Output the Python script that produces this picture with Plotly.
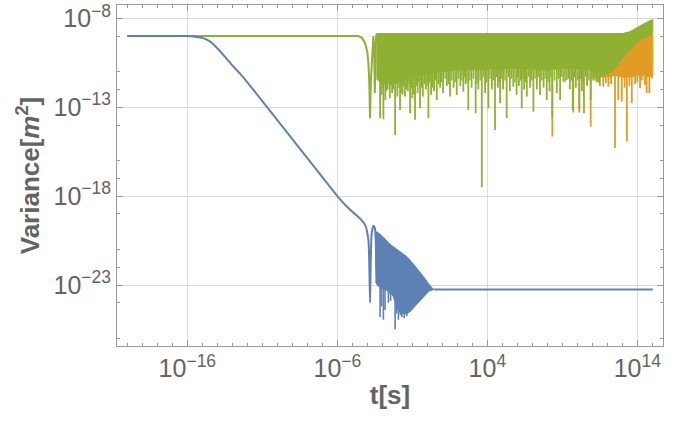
import plotly.graph_objects as go

# All values are log10 of t[s] and log10 of Variance[m^2].

# ---- Axis ticks ----
x_tick_exp = [-16, -6, 4, 14]
y_tick_exp = [-23, -18, -13, -8]

# ---- Blue series ----
blue_logt = [-20, -16, -15.5, -15, -14.5, -14, -13.5, -13, -12.5, -12, -11, -10, -9, -8, -7, -6,
             -5.5, -5, -4.5, -4.15, -3.93, -3.88, -3.82, -3.77, -3.71, -3.6, -3.5, -3.44, -3.4, -3.37]
blue_logv = [-9.0, -9.0, -9.03, -9.1, -9.3, -9.68, -10.15, -10.65, -11.1, -11.6, -12.65, -13.72, -14.79,
             -15.86, -16.93, -18.0, -18.47, -18.88, -19.25, -19.62, -20.46, -21.5, -24.0, -21.5, -20.1,
             -19.67, -19.8, -20.5, -22.9, -20.0]
blue_band_top_t = [-3.37, -3.0, -2.5, -2.0, -1.37, -1.0, -0.6, -0.26, 0.1, 0.42]
blue_band_top_v = [-20.0, -20.25, -20.7, -21.0, -21.4, -21.75, -22.15, -22.52, -22.95, -23.25]
blue_band_bot_t = [0.42, 0.1, -0.3, -0.7, -1.1, -1.4, -1.9, -2.3, -2.7, -3.0, -3.37]
blue_band_bot_v = [-23.25, -23.35, -23.7, -24.1, -24.45, -24.65, -24.5, -23.6, -23.3, -23.2, -23.0]
blue_spike_t = [-3.15, -3.05, -2.93, -2.82, -2.6, -2.45, -2.15, -2.05, -1.93, -1.8, -1.7, -1.55, -1.37, -1.15]
blue_spike_v = [-24.8, -24.2, -24.95, -24.4, -24.0, -23.9, -25.5, -24.6, -24.95, -24.7, -24.8, -24.85, -24.75, -24.5]
blue_tail_t = [0.42, 15.03]
blue_tail_v = [-23.25, -23.25]

# ---- Green series ----
green_logt = [-20, -4.6, -4.35, -4.15, -4.0, -3.93, -3.87, -3.82, -3.77, -3.71, -3.65, -3.6, -3.55, -3.5, -3.45, -3.4]
green_logv = [-9.0, -9.0, -9.1, -9.4, -9.9, -10.53, -11.6, -13.62, -11.6, -10.53, -9.4, -9.0, -9.6, -12.2, -9.6, -8.9]
green_band_top_t = [-3.4, 13.0, 13.5, 14.0, 14.5, 15.03]
green_band_top_v = [-8.86, -8.86, -8.75, -8.5, -8.27, -8.06]
green_band_bot_t = [15.03, 14.18, 13.29, 12.4, 11.63, 11.3, 10.0, 9.0, 8.0, 7.0, 6.0, 5.0, 4.0, 3.0,
                    2.0, 1.0, 0.0, -1.0, -2.0, -3.0, -3.4]
green_band_bot_v = [-8.84, -9.22, -9.97, -10.9, -11.3, -10.9, -10.85, -10.8, -10.9, -10.85, -10.8, -10.85,
                    -10.85, -10.9, -10.9, -11.0, -11.1, -11.3, -11.6, -11.7, -11.4]
green_spike_t = [-3.15, -3.05, -2.93, -2.8, -2.65, -2.5, -2.35, -2.15, -2.0, -1.82, -1.65, -1.49, -1.3,
                 -1.15, -1.0, -0.82, -0.65, -0.49, -0.3, -0.1, 0.07, 0.25, 0.45, 0.63, 0.85, 1.05, 1.3,
                 1.51, 1.75, 1.96, 2.2, 2.4, 2.55, 2.73, 2.95, 3.22, 3.4, 3.63, 3.85, 4.07, 4.3, 4.51,
                 4.7, 4.85, 5.05, 5.29, 5.5, 5.73, 5.95, 6.1, 6.29, 6.45, 6.63, 6.85, 7.07, 7.3, 7.51,
                 7.75, 7.96, 8.15, 8.33, 8.63, 8.85, 9.07, 9.29, 9.5, 9.69, 9.9, 10.13, 10.3, 10.44,
                 10.65, 10.89, 11.07, 11.3, 11.5]
green_spike_v = [-13.62, -12.3, -13.67, -12.6, -12.0, -12.5, -12.2, -14.56, -12.4, -13.15, -12.3, -12.4,
                 -12.1, -13.34, -12.5, -13.71, -12.2, -13.06, -12.4, -12.0, -13.62, -12.3, -12.1, -12.6,
                 -11.9, -12.2, -11.8, -12.4, -11.9, -12.31, -11.8, -12.12, -11.7, -13.15, -11.9, -13.34,
                 -12.0, -17.5, -12.2, -13.06, -12.0, -14.28, -11.9, -12.77, -12.0, -13.62, -12.1, -11.84,
                 -12.3, -11.8, -13.06, -12.0, -12.4, -11.9, -13.25, -12.0, -12.31, -11.9, -12.59, -12.1,
                 -13.6, -12.21, -12.59, -11.56, -11.47, -12.0, -13.15, -11.9, -13.15, -12.1, -13.34,
                 -11.8, -12.59, -11.5, -11.6, -11.8]
# shorter hairs between the main spikes
green_hair_t = [-2.98, -2.72, -2.42, -2.25, -2.08, -1.9, -1.74, -1.57, -1.4, -1.22, -1.07, -0.9, -0.73,
                -0.57, -0.4, -0.2, 0.0, 0.16, 0.35, 0.54, 0.74, 0.95, 1.18, 1.4, 1.63, 1.86, 2.08, 2.3,
                2.48, 2.64, 2.84, 3.08, 3.31, 3.52, 3.74, 3.96, 4.18, 4.4, 4.6, 4.78, 4.95, 5.17, 5.4,
                5.62, 5.84, 6.02, 6.2, 6.37, 6.54, 6.74, 6.96, 7.18, 7.4, 7.63, 7.85, 8.05, 8.24, 8.48,
                8.74, 8.96, 9.18, 9.4, 9.6, 9.8, 10.02, 10.22, 10.37, 10.55, 10.77, 10.98, 11.18, 11.4]
green_hair_v = [-11.9, -12.1, -11.8, -12.0, -11.7, -11.9, -12.2, -11.8, -12.0, -11.7, -11.9, -12.3, -11.8,
                -11.6, -11.9, -11.7, -11.8, -11.6, -11.9, -11.5, -11.7, -11.6, -11.4, -11.7, -11.5, -11.6,
                -11.4, -11.5, -11.3, -11.6, -11.5, -11.4, -11.7, -11.5, -11.3, -11.6, -11.4, -11.5, -11.3,
                -11.6, -11.4, -11.5, -11.3, -11.4, -11.6, -11.3, -11.5, -11.4, -11.6, -11.3, -11.5, -11.4,
                -11.3, -11.5, -11.4, -11.6, -11.3, -11.5, -11.4, -11.3, -11.6, -11.4, -11.5, -11.3, -11.5,
                -11.4, -11.6, -11.3, -11.5, -11.4, -11.5, -11.6]

# ---- Orange series (visible part) ----
orange_band_top_t = [11.0, 15.03]
orange_band_top_v = [-8.88, -8.88]
orange_band_bot_t = [15.03, 14.8, 14.5, 14.0, 13.5, 13.0, 12.5, 12.0, 11.5, 11.0]
orange_band_bot_v = [-11.2, -11.3, -11.2, -11.2, -11.3, -11.3, -11.2, -11.3, -11.3, -11.3]
orange_spike_t = [8.33, 9.73, 10.13, 10.89, 11.73, 11.9, 12.07, 12.25, 12.51, 12.73, 12.96, 13.15,
                  13.3, 13.47, 13.63, 13.85, 14.0, 14.18, 14.3, 14.51, 14.62, 14.8, 14.96]
orange_spike_v = [-14.65, -13.3, -13.3, -14.09, -11.84, -11.64, -11.84, -11.7, -15.3, -12.59, -12.68,
                  -11.9, -14.93, -11.8, -12.77, -11.7, -11.6, -11.93, -11.47, -11.75, -12.21, -12.21, -11.37]

BLUE = "#5E81B5"
ORANGE = "#E19C24"
GREEN = "#8FB032"


def p10(vals):
    return [10.0 ** v for v in vals]


def spikes(ts, vs, top):
    xs, ys = [], []
    for t, v in zip(ts, vs):
        xs += [10.0 ** t, 10.0 ** t, None]
        ys += [10.0 ** top, 10.0 ** v, None]
    return xs, ys


def power_label(e):
    return "10<sup>%s%d</sup>" % ("\u2212" if e < 0 else "", abs(e))


fig = go.Figure()

# orange (drawn first)
fig.add_trace(go.Scatter(x=p10(orange_band_top_t + orange_band_bot_t),
                         y=p10(orange_band_top_v + orange_band_bot_v),
                         mode="lines", fill="toself", fillcolor=ORANGE,
                         line=dict(color=ORANGE, width=1)))
sx, sy = spikes(orange_spike_t, orange_spike_v, -11.0)
fig.add_trace(go.Scatter(x=sx, y=sy, mode="lines", line=dict(color=ORANGE, width=1.8)))

# green
fig.add_trace(go.Scatter(x=p10(green_logt), y=p10(green_logv), mode="lines",
                         line=dict(color=GREEN, width=2)))
fig.add_trace(go.Scatter(x=p10(green_band_top_t + green_band_bot_t),
                         y=p10(green_band_top_v + green_band_bot_v),
                         mode="lines", fill="toself", fillcolor=GREEN,
                         line=dict(color=GREEN, width=1)))
sx, sy = spikes(green_spike_t, green_spike_v, -10.5)
fig.add_trace(go.Scatter(x=sx, y=sy, mode="lines", line=dict(color=GREEN, width=1.8)))
sx, sy = spikes(green_hair_t, green_hair_v, -10.5)
fig.add_trace(go.Scatter(x=sx, y=sy, mode="lines", line=dict(color=GREEN, width=1.4)))

# blue (on top)
fig.add_trace(go.Scatter(x=p10(blue_logt), y=p10(blue_logv), mode="lines",
                         line=dict(color=BLUE, width=2, shape="spline", smoothing=0.6)))
fig.add_trace(go.Scatter(x=p10(blue_band_top_t + blue_band_bot_t),
                         y=p10(blue_band_top_v + blue_band_bot_v),
                         mode="lines", fill="toself", fillcolor=BLUE,
                         line=dict(color=BLUE, width=1)))
sx, sy = spikes(blue_spike_t, blue_spike_v, -22.5)
fig.add_trace(go.Scatter(x=sx, y=sy, mode="lines", line=dict(color=BLUE, width=1.6)))
fig.add_trace(go.Scatter(x=p10(blue_tail_t), y=p10(blue_tail_v), mode="lines",
                         line=dict(color=BLUE, width=2)))

TXT = "#646464"
FRAME = "#9a9a9a"
FONT = "Liberation Sans, Arial, sans-serif"

x_minor = [10.0 ** k for k in range(-20, 16) if k not in x_tick_exp]
y_minor = [10.0 ** k for k in range(-26, -7) if k not in y_tick_exp and k % 5 != 0]

common = dict(type="log", tickmode="array", showgrid=True, gridcolor="#dcdcdc", gridwidth=1,
              ticks="inside", ticklen=6, tickcolor=FRAME, showline=True, linecolor=FRAME,
              linewidth=1, mirror="allticks", zeroline=False, automargin=False,
              tickfont=dict(family=FONT, size=25, color=TXT))

fig.update_xaxes(range=[-20.69, 15.71],
                 tickvals=p10(x_tick_exp), ticktext=[power_label(e) for e in x_tick_exp],
                 minor=dict(tickvals=x_minor, ticks="inside", ticklen=3, tickcolor=FRAME, showgrid=False),
                 title=dict(text="<b>t[s]</b>", font=dict(family=FONT, size=26, color=TXT), standoff=4),
                 **common)
fig.update_yaxes(range=[-26.43, -7.25],
                 tickvals=p10(y_tick_exp), ticktext=[power_label(e) for e in y_tick_exp],
                 minor=dict(tickvals=y_minor, ticks="inside", ticklen=3, tickcolor=FRAME, showgrid=False),
                 title=dict(text="<b>Variance[<i>m</i><sup>2</sup>]</b>",
                            font=dict(family=FONT, size=26, color=TXT), standoff=6),
                 **common)

fig.update_layout(width=688, height=422, margin=dict(l=117, r=25, t=5, b=76),
                  paper_bgcolor="white", plot_bgcolor="white", showlegend=False,
                  hovermode=False)

fig.write_html("out.html", config={"displayModeBar": False},
               post_script="document.body.style.margin='0';document.body.style.overflow='hidden';")
